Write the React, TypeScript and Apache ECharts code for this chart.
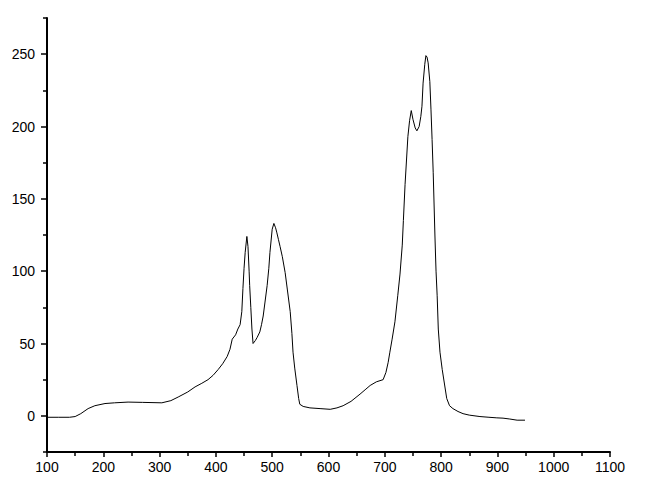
import React, { useEffect, useRef } from "react";
import * as echarts from "echarts";

const wavelength = [
  100, 120, 140, 150, 160, 173, 185, 203, 220, 244, 270, 304, 320, 333, 350, 363, 375, 386, 395, 404,
  412, 420, 425, 429, 435, 439, 443, 446, 448, 450, 452, 455, 457, 459, 460, 462, 464, 466, 470, 473,
  478, 481, 484, 487, 491, 494, 496, 500, 503, 506, 508, 511, 514, 518, 523, 527, 532, 535, 537, 540,
  544, 547, 549, 555, 567, 585, 603, 615, 626, 640, 656, 665, 674, 685, 697, 702, 706, 709, 713, 718,
  723, 727, 731, 733, 736, 741, 744, 747, 750, 754, 757, 761, 764, 766, 768, 771, 773, 775, 777, 780,
  782, 784, 786, 789, 791, 793, 795, 798, 802, 806, 810, 815, 821, 830, 839, 850, 869, 885, 899, 910,
  922, 935, 949,
];
const intensity = [
  -1, -1, -1, -0.5, 1.5, 5, 7, 8.5, 9, 9.5, 9.3, 9, 10.5, 13, 16.5, 20, 22.5, 25, 28, 32,
  36, 41, 46, 53, 56, 60, 63, 72, 88, 102, 113, 124, 117, 100, 90, 75, 60, 50, 52, 54,
  58, 63, 69, 78, 90, 102, 113, 129, 133, 130, 127, 122, 117, 110, 99, 87, 72, 57, 44, 33,
  21, 12, 8, 6.5, 5.5, 5, 4.5, 5.5, 7, 10, 15, 18, 21, 23.5, 25, 30, 37, 44, 53, 65,
  83, 98, 118, 135, 160, 193, 204, 211, 205, 199, 197, 200, 207, 214, 230, 243, 249, 248, 244, 231,
  212, 191, 168, 125, 100, 83, 60, 44, 32, 22, 12, 7, 5, 3, 1.5, 0.5, -0.5, -1, -1.4, -1.6,
  -2.2, -3, -3,
];
const yMajorTicks = [0, 50, 100, 150, 200, 250];
const yMinorTicks = [-25, 25, 75, 125, 175, 225, 275];

export default function App() {
  const ref = useRef<HTMLDivElement>(null);
  useEffect(() => {
    document.body.style.margin = "0";
    const chart = echarts.init(ref.current!, null, { renderer: "svg" });
    const font = { fontFamily: "Liberation Sans, Arial, sans-serif", fontSize: 14, color: "#000" };
    chart.setOption({
      animation: false,
      backgroundColor: "#fff",
      grid: { left: 47, right: 35, top: 18, bottom: 35, containLabel: false },
      xAxis: {
        type: "value",
        min: 100,
        max: 1100,
        interval: 100,
        axisLine: { onZero: false, lineStyle: { color: "#000", width: 2 } },
        axisTick: { length: 5, lineStyle: { color: "#000", width: 1.5 } },
        minorTick: { show: true, splitNumber: 2, length: 4, lineStyle: { color: "#000", width: 1.5 } },
        axisLabel: { ...font, margin: 8, formatter: (v: number) => String(v) },
        splitLine: { show: false },
      },
      yAxis: [
        {
          type: "value",
          min: -25,
          max: 275,
          interval: 25,
          axisLine: { show: true, lineStyle: { color: "#000", width: 2 } },
          axisTick: { show: true, length: 6, customValues: yMajorTicks, lineStyle: { color: "#000", width: 1.5 } },
          axisLabel: {
            ...font,
            margin: 12,
            customValues: yMajorTicks,
            formatter: (v: number) => (v % 50 === 0 ? String(v) : ""),
          },
          splitLine: { show: false },
        },
        {
          type: "value",
          position: "left",
          min: -25,
          max: 275,
          interval: 25,
          axisLine: { show: false },
          axisTick: { show: true, length: 4, customValues: yMinorTicks, lineStyle: { color: "#000", width: 1.5 } },
          axisLabel: { show: false },
          splitLine: { show: false },
        },
      ],
      series: [
        {
          type: "line",
          data: wavelength.map((x, i) => [x, intensity[i]]),
          showSymbol: false,
          symbol: "none",
          lineStyle: { color: "#000", width: 1 },
          yAxisIndex: 0,
        },
      ],
    });
    return () => chart.dispose();
  }, []);
  return <div ref={ref} style={{ width: 645, height: 487 }} />;
}
